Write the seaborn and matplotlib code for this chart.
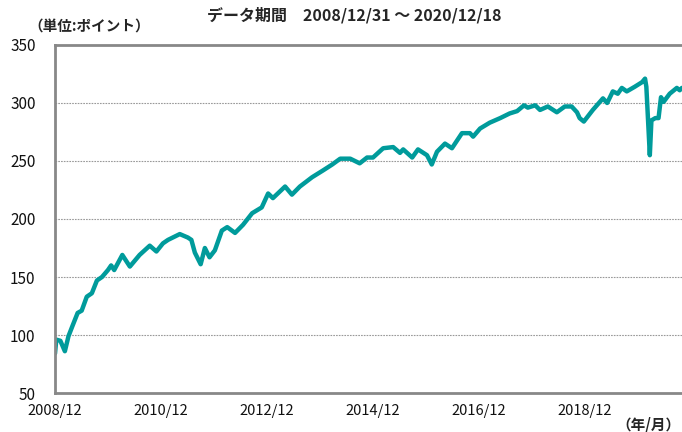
import pandas as pd
import matplotlib
matplotlib.use("Agg")
import matplotlib.pyplot as plt
import seaborn as sns

# Dados (semanas/meses aproximados)
datas = [
    "2008-12-31", "2009-01-09", "2009-02-06", "2009-03-09", "2009-04-03", "2009-05-01",
    "2009-06-05", "2009-07-03", "2009-08-07", "2009-09-11", "2009-10-16", "2009-11-20",
    "2009-12-31", "2010-01-22", "2010-02-12", "2010-04-09", "2010-05-31", "2010-08-06",
    "2010-10-15", "2010-11-30", "2011-01-14", "2011-02-18", "2011-05-10", "2011-07-05",
    "2011-07-29", "2011-08-22", "2011-10-01", "2011-10-30", "2011-12-01", "2012-01-07",
    "2012-02-24", "2012-04-01", "2012-05-25", "2012-07-19", "2012-09-20", "2012-11-25",
    "2013-01-08", "2013-02-10", "2013-05-05", "2013-06-21", "2013-08-15", "2013-11-07",
    "2014-01-23", "2014-03-26", "2014-05-20", "2014-07-28", "2014-10-01", "2014-11-21",
    "2015-01-01", "2015-03-12", "2015-05-20", "2015-07-06", "2015-07-28", "2015-09-28",
    "2015-11-07", "2016-01-08", "2016-02-10", "2016-03-17", "2016-05-11", "2016-06-28",
    "2016-09-05", "2016-10-30", "2016-11-21", "2017-01-08", "2017-03-15", "2017-05-27",
    "2017-07-31", "2017-09-20", "2017-11-07", "2017-12-03", "2018-01-23", "2018-02-25",
    "2018-04-20", "2018-06-21", "2018-08-15", "2018-10-01", "2018-11-07", "2018-11-25",
    "2018-12-24", "2019-02-24", "2019-05-05", "2019-06-03", "2019-07-12", "2019-08-15",
    "2019-09-12", "2019-10-16", "2019-12-10", "2020-01-30", "2020-02-19", "2020-02-28",
    "2020-03-23", "2020-04-03", "2020-04-30", "2020-05-22", "2020-06-08", "2020-06-26",
    "2020-08-07", "2020-09-25", "2020-10-15", "2020-10-30", "2020-11-20", "2020-12-18",
]
valores = [
    84, 96, 95, 86, 99, 108,
    119, 121, 133, 136, 147, 150,
    156, 160, 156, 169, 159, 169,
    177, 172, 179, 182, 187, 184,
    182, 171, 161, 175, 167, 173,
    190, 193, 188, 195, 205, 210,
    222, 218, 228, 221, 228, 236,
    242, 247, 252, 252, 248, 253,
    253, 261, 262, 257, 260, 253,
    260, 255, 247, 258, 265, 261,
    274, 274, 271, 278, 283, 287,
    291, 293, 298, 296, 298, 294,
    297, 292, 297, 297, 292, 287,
    284, 294, 304, 300, 310, 308,
    313, 310, 314, 318, 321, 314,
    255, 285, 287, 287, 305, 301,
    308, 313, 311, 313, 312, 311,
]
rotulos_x = ["2008/12", "2010/12", "2012/12", "2014/12", "2016/12", "2018/12"]
ticks_x = ["2008-12-31", "2010-12-31", "2012-12-31", "2014-12-31", "2016-12-31", "2018-12-31"]
ticks_y = [50, 100, 150, 200, 250, 300, 350]

df = pd.DataFrame({"data": pd.to_datetime(datas), "valor": valores})

sns.set_theme(style="white")
plt.rcParams['font.family'] = ['Noto Sans CJK JP', 'DejaVu Sans']

fig = plt.figure(figsize=(6.82, 4.32), dpi=100)
ax = fig.add_axes([55 / 682, 39 / 432, 634 / 682, 348 / 432])

sns.lineplot(data=df, x="data", y="valor", color="#009B9B", linewidth=3.2, ax=ax)

ax.set_xlim(pd.Timestamp("2008-12-31"), pd.Timestamp("2020-12-18"))
ax.set_ylim(50, 350)
ax.set_yticks(ticks_y)
ax.set_xticks(pd.to_datetime(ticks_x))
ax.set_xticklabels(rotulos_x)
ax.set_xlabel("")
ax.set_ylabel("")

# Grade pontilhada só nas linhas internas
for v in ticks_y[1:-1]:
    ax.axhline(v, color="#999999", linestyle=(0, (1.5, 1)), linewidth=0.8, zorder=0)

for lado in ["left", "top", "bottom"]:
    ax.spines[lado].set_color("#888888")
    ax.spines[lado].set_linewidth(2)
ax.spines["right"].set_visible(False)

ax.tick_params(axis="y", length=0, labelsize=11, pad=14, colors="#111111")
ax.tick_params(axis="x", direction="in", length=4, color="#bbbbbb", labelsize=10.5,
               pad=8, colors="#111111")
for t in ax.get_xticklabels():
    t.set_color("#111111")

fig.text(354 / 682, 1 - 15 / 432, "データ期間　2008/12/31 ～ 2020/12/18",
         ha="center", va="center", fontsize=11.5, fontweight="bold")
fig.text(28 / 682, 1 - 27 / 432, "（単位:ポイント）", ha="left", va="center",
         fontsize=10.5, fontweight="bold")
fig.text(680 / 682, 1 - 424 / 432, "（年/月）", ha="right", va="center",
         fontsize=10.5, fontweight="bold")

fig.savefig("out.png", dpi=100)
